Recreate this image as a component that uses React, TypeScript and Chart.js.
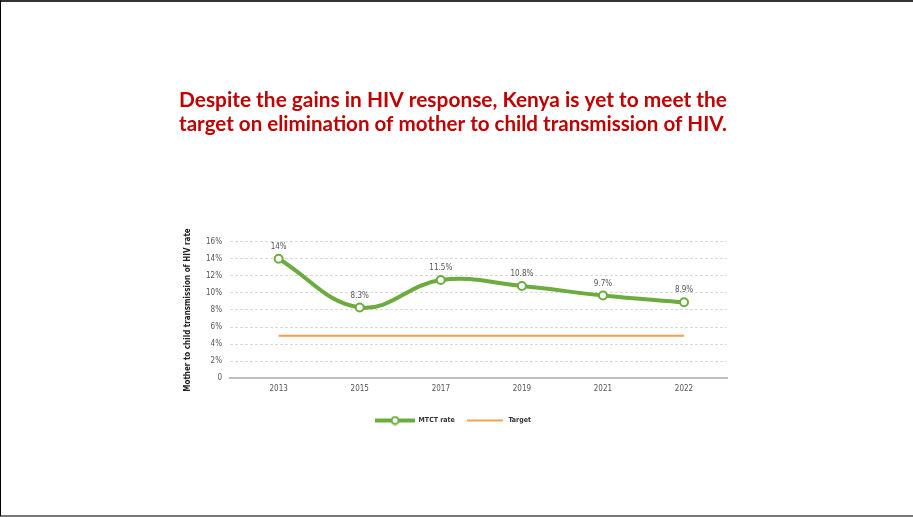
import React, { useEffect, useRef } from "react";
import { Chart, registerables } from "chart.js";

Chart.register(...registerables);

const titleLines = [
  "Despite the gains in HIV response, Kenya is yet to meet the",
  "target on elimination of mother to child transmission of HIV.",
];
const years = ["2013", "2015", "2017", "2019", "2021", "2022"];
const mtctRate = [14, 8.3, 11.5, 10.8, 9.7, 8.9];
const rateLabels = ["14%", "8.3%", "11.5%", "10.8%", "9.7%", "8.9%"];
const targetRate = [5, 5, 5, 5, 5, 5];
const yTicks = [0, 2, 4, 6, 8, 10, 12, 14, 16];

const GREEN = "#6cab3e";
const ORANGE = "#f69f4e";
const FONT = "'DejaVu Sans Condensed', 'Roboto', sans-serif";

function makeLegendImg(kind: "mtct" | "target"): HTMLCanvasElement {
  const c = document.createElement("canvas");
  c.width = 40;
  c.height = 10;
  const ctx = c.getContext("2d")!;
  if (kind === "mtct") {
    ctx.strokeStyle = GREEN;
    ctx.lineWidth = 4;
    ctx.beginPath();
    ctx.moveTo(0, 5);
    ctx.lineTo(40, 5);
    ctx.stroke();
    ctx.beginPath();
    ctx.arc(20, 5, 3.5, 0, Math.PI * 2);
    ctx.fillStyle = "#fff";
    ctx.fill();
    ctx.lineWidth = 2;
    ctx.stroke();
  } else {
    ctx.strokeStyle = ORANGE;
    ctx.lineWidth = 2;
    ctx.beginPath();
    ctx.moveTo(2, 5);
    ctx.lineTo(38, 5);
    ctx.stroke();
  }
  return c;
}

const valueLabelPlugin = {
  id: "valueLabels",
  afterDatasetsDraw(chart: any) {
    const meta = chart.getDatasetMeta(0);
    const ctx = chart.ctx;
    ctx.save();
    ctx.font = `8px ${FONT}`;
    ctx.fillStyle = "#555";
    ctx.textAlign = "center";
    ctx.textBaseline = "middle";
    meta.data.forEach((pt: any, i: number) => {
      ctx.fillText(rateLabels[i], pt.x, pt.y - 12);
    });
    ctx.restore();
  },
};

export default function App() {
  const ref = useRef<HTMLCanvasElement>(null);
  useEffect(() => {
    document.body.style.margin = "0";
    const imgs = [makeLegendImg("mtct"), makeLegendImg("target")];
    const chart = new Chart(ref.current!, {
      type: "line",
      data: {
        datasets: [
          {
            label: "MTCT rate",
            data: mtctRate.map((v, i) => ({ x: i, y: v })),
            borderColor: GREEN,
            borderWidth: 4,
            tension: 0.4,
            pointRadius: 4,
            pointBorderWidth: 2,
            pointBackgroundColor: "#fff",
            pointBorderColor: GREEN,
          },
          {
            label: "Target",
            data: targetRate.map((v, i) => ({ x: i, y: v })),
            borderColor: ORANGE,
            borderWidth: 2,
            pointRadius: 0,
            tension: 0,
          },
        ],
      },
      options: {
        responsive: false,
        animation: false,
        layout: { padding: { top: 86.5, left: 178, right: 186, bottom: 81 } },
        scales: {
          x: {
            type: "linear",
            min: -0.6,
            max: 5.53,
            afterBuildTicks: (scale: any) => {
              scale.ticks = years.map((_, i) => ({ value: i }));
            },
            afterFit: (scale: any) => {
              scale.height = scale.height + 7;
            },
            ticks: {
              callback: (v: any) => years[v as number] ?? "",
              font: { family: FONT, size: 8 },
              color: "#555",
              padding: 6,
            },
            grid: { display: false, drawTicks: false },
            border: { display: true, color: "#bfbfbf", width: 2 },
          },
          y: {
            min: 0,
            max: 16,
            afterBuildTicks: (scale: any) => {
              scale.ticks = yTicks.map((v) => ({ value: v }));
            },
            afterFit: (scale: any) => {
              scale.width = 51;
            },
            ticks: {
              callback: (v: any) => (v === 0 ? "0" : v + "%"),
              font: { family: FONT, size: 8 },
              color: "#555",
              padding: 8,
            },
            grid: {
              color: "#d9d9d9",
              lineWidth: 1,
              drawTicks: false,
            },
            border: { display: false, dash: [3, 2] },
            title: {
              display: true,
              text: "Mother to child transmission of HIV rate",
              font: { family: FONT, size: 8, weight: "bold" },
              color: "#222",
              padding: { top: 4, bottom: 4 },
            },
          },
        },
        plugins: {
          title: {
            display: true,
            text: titleLines,
            color: "#c00000",
            font: { family: "Lato", size: 21.4, weight: "bold", lineHeight: 1.1 },
            padding: { top: 0, bottom: 106 },
          },
          legend: {
            position: "bottom",
            labels: {
              usePointStyle: true,
              pointStyleWidth: 40,
              font: { family: FONT, size: 7, weight: "bold" },
              color: "#333",
              padding: 10,
              generateLabels: (ch: any) =>
                ch.data.datasets.map((ds: any, i: number) => ({
                  text: ds.label,
                  pointStyle: imgs[i],
                  datasetIndex: i,
                  hidden: false,
                  fontColor: "#333",
                  lineWidth: 0,
                  strokeStyle: "transparent",
                  fillStyle: "transparent",
                })),
            },
          },
          tooltip: { enabled: false },
        },
      },
      plugins: [valueLabelPlugin],
    });
    return () => chart.destroy();
  }, []);
  return (
    <div
      style={{
        width: 913,
        height: 517,
        boxSizing: "border-box",
        borderTop: "2px solid #333",
        borderLeft: "1px solid #000",
        borderBottom: "2px solid #777",
        background: "#fff",
        overflow: "hidden",
      }}
    >
      <canvas ref={ref} width={912} height={513} style={{ display: "block" }} />
    </div>
  );
}
